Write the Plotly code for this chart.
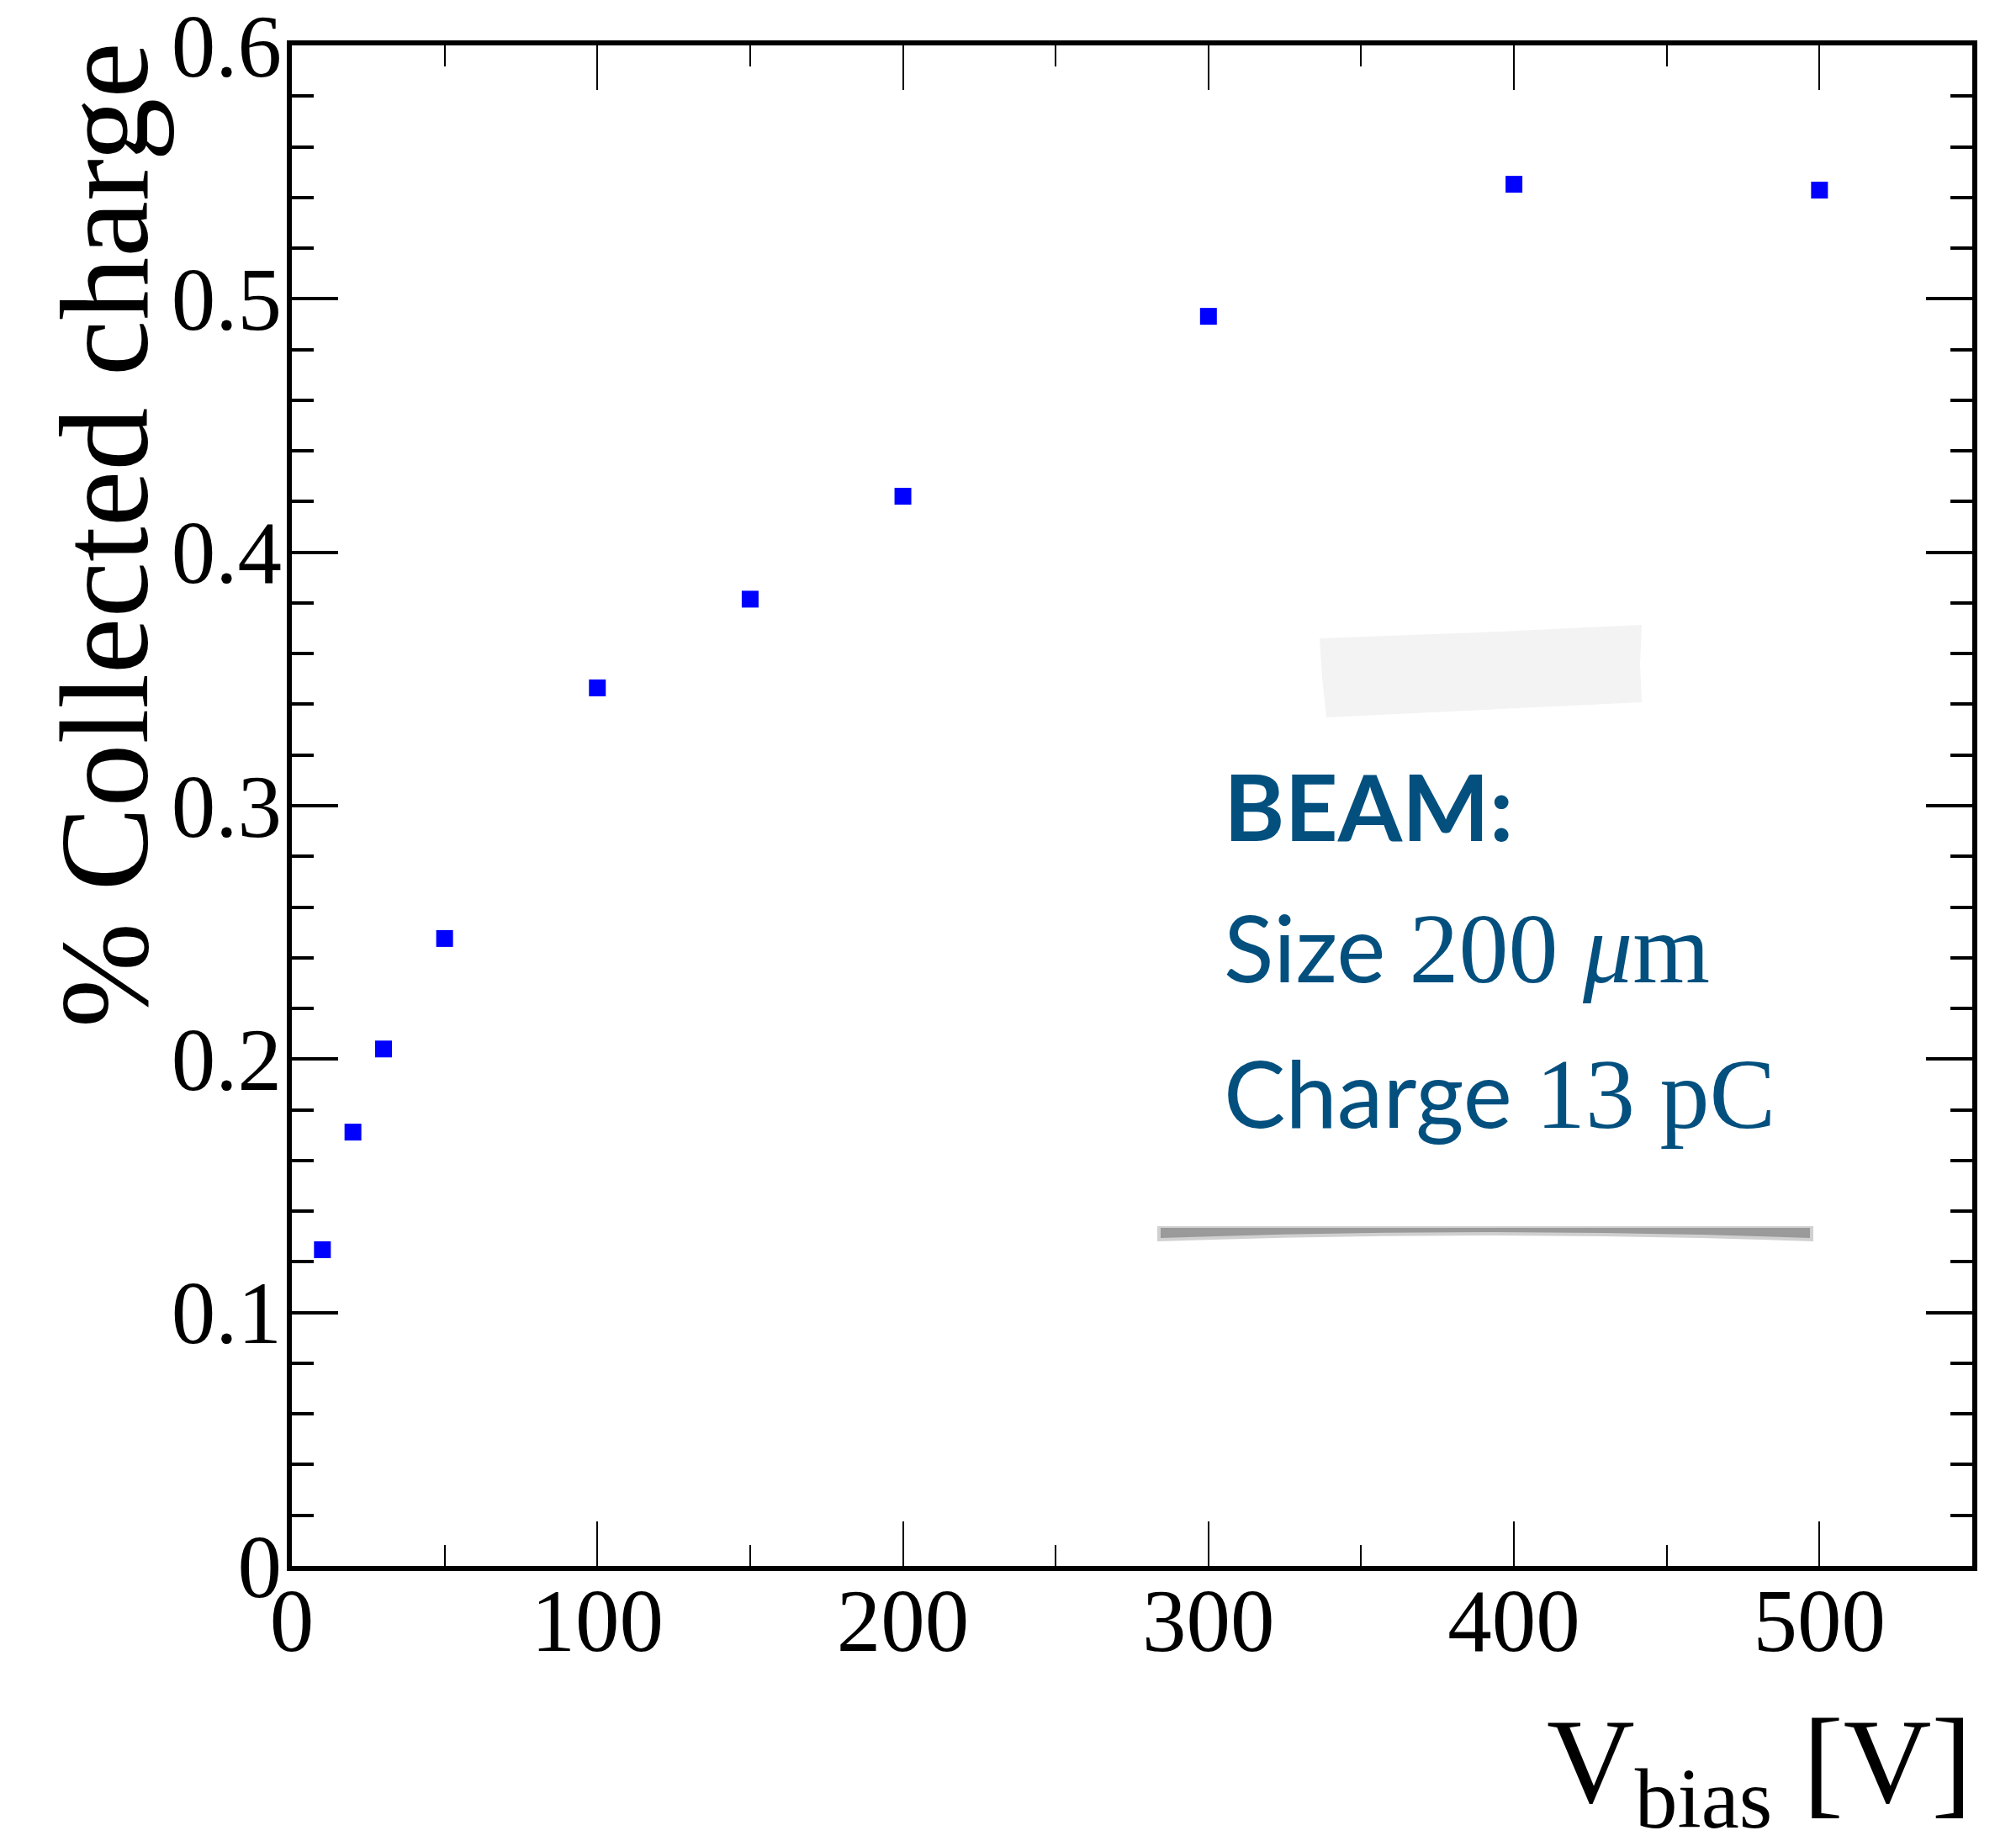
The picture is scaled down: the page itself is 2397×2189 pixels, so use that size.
import plotly.graph_objects as go

# ---- data ----
v_bias = [10, 20, 30, 50, 100, 150, 200, 300, 400, 500]
collected = [0.1248, 0.1712, 0.2040, 0.2476, 0.3465, 0.3815, 0.4221, 0.4931, 0.5452, 0.5429]
x_tickvals = [0, 100, 200, 300, 400, 500]
y_tickvals = [0, 0.1, 0.2, 0.3, 0.4, 0.5, 0.6]
y_ticktext = ["0", "0.1", "0.2", "0.3", "0.4", "0.5", "0.6"]

W, H = 2397, 2189
L, R, T, B = 347, 2345, 54, 1862


def px(xp):
    return (xp - L) / (R - L)


def py(yp):
    return (B - yp) / (B - T)


SERIF = "Liberation Serif"
SANS = "Lato"
NOTE = "#03507f"

fig = go.Figure()
fig.add_trace(go.Scatter(
    x=v_bias, y=collected, mode="markers",
    marker=dict(symbol="square", size=20, color="#0000ff", line=dict(width=0)),
    showlegend=False, hoverinfo="x+y",
))

fig.update_layout(
    width=W, height=H,
    margin=dict(l=L, r=W - R, t=T, b=H - B, pad=0),
    paper_bgcolor="white", plot_bgcolor="white",
    font=dict(family=SERIF, color="black", size=105),
    showlegend=False,
)

fig.update_xaxes(
    range=[0, 550], showgrid=False, zeroline=False, automargin=False,
    showline=True, linecolor="black", linewidth=6, mirror="ticks",
    ticks="inside", ticklen=53, tickwidth=2, tickcolor="black",
    tickvals=x_tickvals, ticktext=[str(v) for v in x_tickvals],
    tickfont=dict(family=SERIF, size=105),
    minor=dict(ticks="inside", ticklen=25, tickwidth=2, tickcolor="black", dtick=50, showgrid=False),
    ticklabelstandoff=-31, ticklabeloverflow="allow",
)
fig.update_yaxes(
    range=[-1e-9, 0.6 + 1e-9], showgrid=False, zeroline=False, automargin=False,
    showline=True, linecolor="black", linewidth=6, mirror="ticks",
    ticks="inside", ticklen=55, tickwidth=4, tickcolor="black",
    tickvals=y_tickvals, ticktext=y_ticktext,
    tickfont=dict(family=SERIF, size=105),
    minor=dict(ticks="inside", ticklen=26, tickwidth=4, tickcolor="black", dtick=0.02, showgrid=False),
    ticklabelstandoff=-15, ticklabeloverflow="allow",
)

annotations = []
# y-axis title
annotations.append(dict(
    text="% Collected charge", textangle=-90,
    xref="paper", yref="paper", x=px(124), y=py(48),
    xanchor="center", yanchor="top", showarrow=False,
    font=dict(family=SERIF, size=150, color="black"),
))
# x-axis title
annotations.append(dict(
    text="V<sub>bias</sub> [V]",
    xref="paper", yref="paper", x=px(2347), y=py(2104),
    xanchor="right", yanchor="middle", showarrow=False,
    font=dict(family=SERIF, size=145, color="black"),
))
# note text
TS = "<span style=\"font-family:'Liberation Serif';font-size:118px\">"
annotations.append(dict(
    text="<b>BEAM:</b>",
    xref="paper", yref="paper", x=px(1453), y=py(957),
    xanchor="left", yanchor="middle", showarrow=False,
    font=dict(family=SANS, size=110, color=NOTE),
))
annotations.append(dict(
    text="Size " + TS + "200 <i>μ</i>m</span>",
    xref="paper", yref="paper", x=px(1453), y=py(1126),
    xanchor="left", yanchor="middle", showarrow=False,
    font=dict(family=SANS, size=110, color=NOTE),
))
annotations.append(dict(
    text="Charge " + TS + "13 pC</span>",
    xref="paper", yref="paper", x=px(1453), y=py(1299),
    xanchor="left", yanchor="middle", showarrow=False,
    font=dict(family=SANS, size=110, color=NOTE),
))
fig.update_layout(annotations=annotations)


def path(points):
    s = "M " + " L ".join(f"{px(a):.5f},{py(b):.5f}" for a, b in points) + " Z"
    return s


# tape
tape = [(1569, 759), (1760, 752), (1952, 743), (1950, 790), (1952, 835), (1577, 853), (1572, 805)]
fig.add_shape(type="path", xref="paper", yref="paper", path=path(tape),
              fillcolor="#f3f3f3", line=dict(width=0), layer="below")
# shadow under the note
sx0, sx1 = 1376, 2156
mid = (sx0 + sx1) / 2
shadow_outer = (f"M {px(sx0):.5f},{py(1458):.5f} L {px(sx1):.5f},{py(1458):.5f} "
                f"L {px(sx1):.5f},{py(1476):.5f} Q {px(mid):.5f},{py(1462):.5f} "
                f"{px(sx0):.5f},{py(1476):.5f} Z")
fig.add_shape(type="path", xref="paper", yref="paper", path=shadow_outer,
              fillcolor="rgba(150,150,150,0.45)", line=dict(width=0), layer="below")
shadow_inner = (f"M {px(sx0+4):.5f},{py(1460):.5f} L {px(sx1-4):.5f},{py(1460):.5f} "
                f"L {px(sx1-4):.5f},{py(1472):.5f} Q {px(mid):.5f},{py(1458):.5f} "
                f"{px(sx0+4):.5f},{py(1472):.5f} Z")
fig.add_shape(type="path", xref="paper", yref="paper", path=shadow_inner,
              fillcolor="rgba(110,110,110,0.55)", line=dict(width=0), layer="below")

fig.write_html("out.html")
